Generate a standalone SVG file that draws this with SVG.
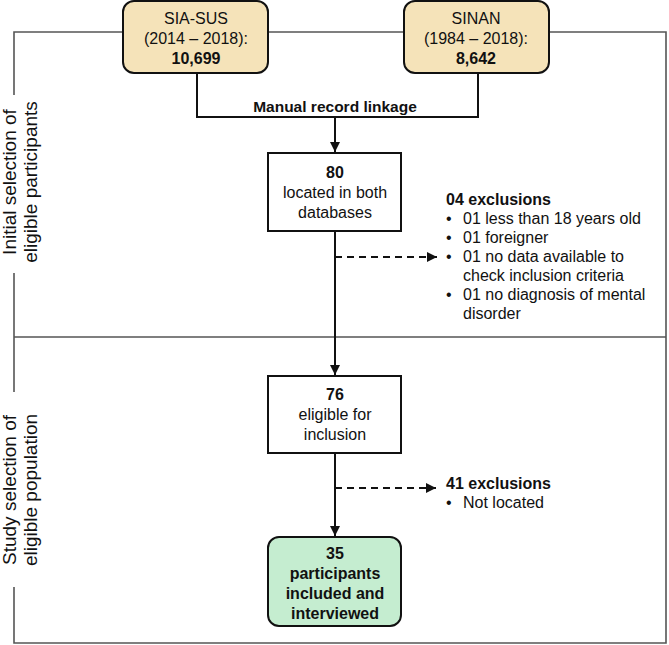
<svg xmlns="http://www.w3.org/2000/svg" width="669" height="645" viewBox="0 0 669 645">
<style>
text{font-family:"Liberation Sans",Arial,sans-serif;font-size:16px;fill:#111}
.c{text-anchor:middle}
.b{font-weight:bold}
.lab{font-size:19px}
.frame{fill:none;stroke:#555;stroke-width:1.6}
.box{stroke:#111;stroke-width:2}
.con{fill:none;stroke:#111;stroke-width:2}
.dash{stroke-dasharray:7 5}
</style>
<defs>
<marker id="ah" viewBox="0 0 10 10" refX="10" refY="5" markerWidth="5" markerHeight="5" orient="auto" markerUnits="strokeWidth">
<path d="M0,0 L10,5 L0,10 z" fill="#111"/>
</marker>
</defs>
<g id="frame">
<path class="frame" d="M14,95 V32 H666 V643 H14 V587"/>
<path class="frame" d="M14,273 V392"/>
<path class="frame" d="M14,337 H666"/>
</g>
<g id="label-initial">
<text class="lab c" transform="translate(16,182) rotate(-90)">Initial selection of</text>
<text class="lab c" transform="translate(37,182) rotate(-90)">eligible participants</text>
</g>
<g id="label-study">
<text class="lab c" transform="translate(16,490) rotate(-90)">Study selection of</text>
<text class="lab c" transform="translate(37,490) rotate(-90)">eligible population</text>
</g>
<g id="connectors">
<path class="con" d="M197,73 V117 H478 V73"/>
<path class="con" d="M335,117 V152" marker-end="url(#ah)"/>
<path class="con" d="M335,231 V375" marker-end="url(#ah)"/>
<path class="con dash" d="M335,257 H437" marker-end="url(#ah)"/>
<path class="con" d="M335,453 V536" marker-end="url(#ah)"/>
<path class="con dash" d="M335,488 H436" marker-end="url(#ah)"/>
</g>
<g id="sia-sus">
<rect class="box" x="123" y="1" width="145" height="72" rx="11" fill="#f5e3b9"/>
<text class="c" x="196" y="24">SIA-SUS</text>
<text class="c" x="196" y="44">(2014 – 2018):</text>
<text class="c b" x="196" y="64">10,699</text>
</g>
<g id="sinan">
<rect class="box" x="404" y="1" width="145" height="72" rx="11" fill="#f5e3b9"/>
<text class="c" x="476" y="24">SINAN</text>
<text class="c" x="476" y="44">(1984 – 2018):</text>
<text class="c b" x="476" y="64">8,642</text>
</g>
<g id="linkage-label">
<text class="c b" x="335" y="112" style="font-size:15.5px">Manual record linkage</text>
</g>
<g id="n80">
<rect class="box" x="268" y="153" width="133" height="78" fill="#fff"/>
<text class="c b" x="335" y="178">80</text>
<text class="c" x="335" y="198">located in both</text>
<text class="c" x="335" y="218">databases</text>
</g>
<g id="excl04">
<text class="b" x="446" y="205">04 exclusions</text>
<text x="446" y="224">•</text><text x="463" y="224">01 less than 18 years old</text>
<text x="446" y="243">•</text><text x="463" y="243">01 foreigner</text>
<text x="446" y="262">•</text><text x="463" y="262">01 no data available to</text>
<text x="463" y="281">check inclusion criteria</text>
<text x="446" y="300">•</text><text x="463" y="300">01 no diagnosis of mental</text>
<text x="463" y="319">disorder</text>
</g>
<g id="n76">
<rect class="box" x="268" y="376" width="133" height="77" fill="#fff"/>
<text class="c b" x="335" y="400">76</text>
<text class="c" x="335" y="420">eligible for</text>
<text class="c" x="335" y="440">inclusion</text>
</g>
<g id="excl41">
<text class="b" x="446" y="489">41 exclusions</text>
<text x="446" y="508">•</text><text x="463" y="508">Not located</text>
</g>
<g id="n35">
<rect class="box" x="268" y="537" width="133" height="89" rx="11" fill="#c5edd0"/>
<text class="c b" x="335" y="559">35</text>
<text class="c b" x="335" y="579">participants</text>
<text class="c b" x="335" y="599">included and</text>
<text class="c b" x="335" y="619">interviewed</text>
</g>
</svg>
